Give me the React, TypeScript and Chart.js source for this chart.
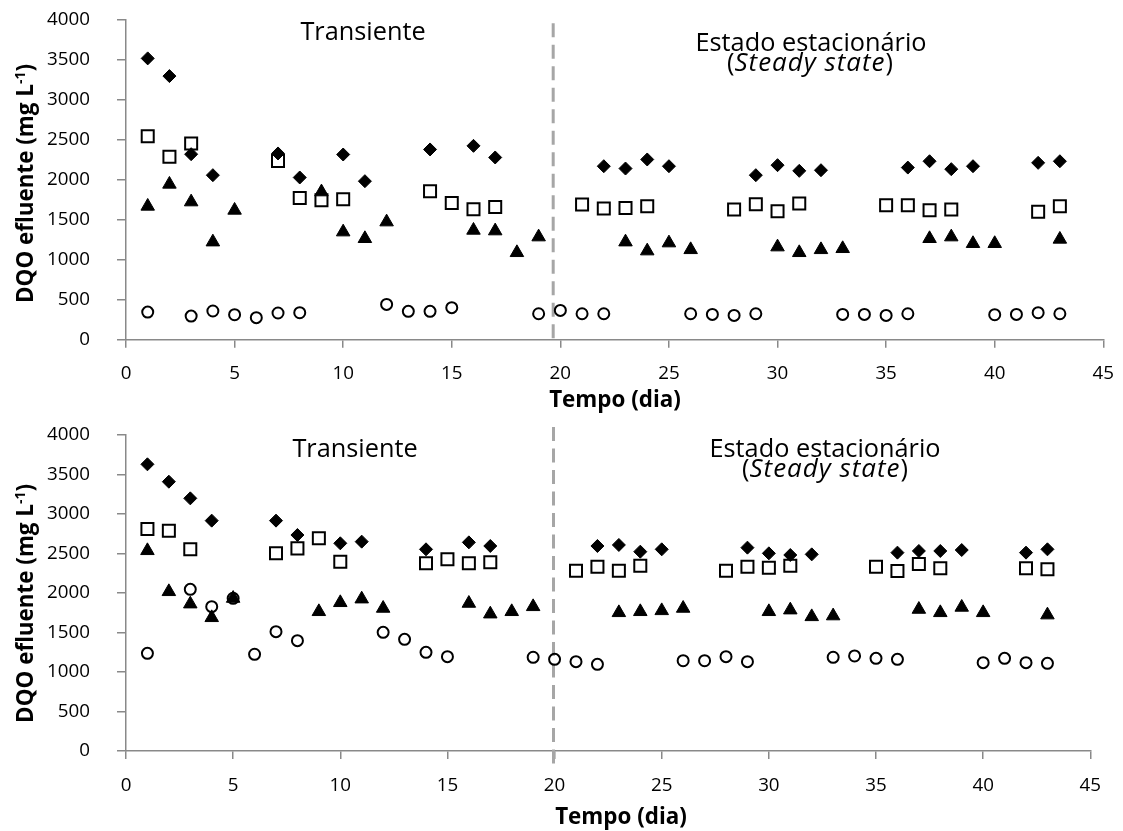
import React, { useEffect, useRef } from "react";
import { Chart, registerables } from "chart.js";

Chart.register(...registerables);

// Eixos comuns
const xTickValues = [0, 5, 10, 15, 20, 25, 30, 35, 40, 45];
const yTickValues = [0, 500, 1000, 1500, 2000, 2500, 3000, 3500, 4000];

// Painel superior: DQO efluente (mg/L) por dia
const topDiamondDays = [1, 2, 3, 4, 7, 8, 10, 11, 14, 16, 17, 22, 23, 24, 25, 29, 30, 31, 32, 36, 37, 38, 39, 42, 43];
const topDiamondValues = [3512, 3291, 2316, 2054, 2325, 2025, 2312, 1979, 2375, 2420, 2275, 2166, 2137, 2250, 2166, 2054, 2179, 2108, 2116, 2149, 2228, 2129, 2166, 2208, 2228];
const topSquareDays = [1, 2, 3, 7, 8, 9, 10, 14, 15, 16, 17, 21, 22, 23, 24, 28, 29, 30, 31, 35, 36, 37, 38, 42, 43];
const topSquareValues = [2541, 2283, 2450, 2232, 1770, 1741, 1754, 1853, 1708, 1628, 1658, 1687, 1637, 1645, 1666, 1625, 1691, 1604, 1700, 1679, 1679, 1616, 1625, 1596, 1666];
const topTriangleDays = [1, 2, 3, 4, 5, 9, 10, 11, 12, 16, 17, 18, 19, 23, 24, 25, 26, 30, 31, 32, 33, 37, 38, 39, 40, 43];
const topTriangleValues = [1666, 1941, 1720, 1220, 1616, 1845, 1345, 1262, 1470, 1366, 1358, 1087, 1283, 1220, 1108, 1208, 1124, 1158, 1087, 1124, 1137, 1262, 1283, 1200, 1200, 1254];
const topCircleDays = [1, 3, 4, 5, 6, 7, 8, 12, 13, 14, 15, 19, 20, 21, 22, 26, 27, 28, 29, 33, 34, 35, 36, 40, 41, 42, 43];
const topCircleValues = [345, 295, 358, 312, 275, 333, 337, 441, 354, 354, 400, 324, 366, 324, 324, 324, 316, 303, 324, 316, 316, 303, 324, 312, 316, 337, 324];

// Painel inferior: DQO efluente (mg/L) por dia
const bottomDiamondDays = [1, 2, 3, 4, 7, 8, 10, 11, 14, 16, 17, 22, 23, 24, 25, 29, 30, 31, 32, 36, 37, 38, 39, 42, 43];
const bottomDiamondValues = [3629, 3409, 3198, 2916, 2916, 2734, 2629, 2650, 2553, 2641, 2595, 2595, 2608, 2523, 2553, 2574, 2502, 2481, 2489, 2511, 2532, 2532, 2544, 2511, 2553];
const bottomSquareDays = [1, 2, 3, 7, 8, 9, 10, 14, 15, 16, 17, 21, 22, 23, 24, 28, 29, 30, 31, 35, 36, 37, 38, 42, 43];
const bottomSquareValues = [2810, 2789, 2553, 2502, 2565, 2692, 2397, 2376, 2426, 2376, 2388, 2283, 2333, 2283, 2346, 2283, 2333, 2321, 2346, 2333, 2279, 2367, 2312, 2312, 2300];
const bottomTriangleDays = [1, 2, 3, 4, 5, 9, 10, 11, 12, 16, 17, 18, 19, 23, 24, 25, 26, 30, 31, 32, 33, 37, 38, 39, 40, 43];
const bottomTriangleValues = [2536, 2017, 1861, 1688, 1932, 1764, 1878, 1924, 1806, 1869, 1734, 1764, 1827, 1751, 1764, 1776, 1806, 1764, 1785, 1700, 1710, 1793, 1751, 1819, 1751, 1722];
const bottomCircleDays = [1, 3, 4, 5, 6, 7, 8, 12, 13, 14, 15, 19, 20, 21, 22, 26, 27, 28, 29, 33, 34, 35, 36, 40, 41, 42, 43];
const bottomCircleValues = [1236, 2046, 1827, 1932, 1224, 1511, 1397, 1502, 1413, 1249, 1194, 1186, 1160, 1131, 1097, 1143, 1143, 1194, 1131, 1186, 1203, 1173, 1160, 1118, 1173, 1118, 1110];

// Fim do período transiente (dia)
const topDividerDay = 19.67;
const bottomDividerDay = 19.95;

const FONT = '"Open Sans", sans-serif';
const AXIS_GRAY = "#898989";

type Pt = { x: number; y: number };
const pairs = (days: number[], values: number[]): Pt[] =>
  days.map((d, i) => ({ x: d, y: values[i] }));

type PanelLayout = {
  top: number;
  height: number;
  padTop: number;
  padRight: number;
  xAxisHeight: number;
  divider: number;
  dividerTopExt: number;
  dividerBottomExt: number;
  transiente: [number, number];
  estado: [number, number];
  steady: [number, number];
  yTitle: [number, number];
  xTitle: [number, number];
};

const topLayout: PanelLayout = {
  top: 0,
  height: 415,
  padTop: 19.3,
  padRight: 19.7,
  xAxisHeight: 75.3,
  divider: topDividerDay,
  dividerTopExt: -4,
  dividerBottomExt: 0,
  transiente: [363, 40],
  estado: [811, 50.7],
  steady: [810, 70.5],
  yTitle: [32.5, 183.5],
  xTitle: [615, 406.7],
};

const bottomLayout: PanelLayout = {
  top: 415,
  height: 416,
  padTop: 20,
  padRight: 32.7,
  xAxisHeight: 80,
  divider: bottomDividerDay,
  dividerTopExt: 8,
  dividerBottomExt: 16,
  transiente: [355, 42.3],
  estado: [825, 41.7],
  steady: [825, 61.7],
  yTitle: [32.5, 188.4],
  xTitle: [621, 409],
};

function textPlugin(lay: PanelLayout) {
  return {
    id: "painelTextos",
    beforeDatasetsDraw(chart: any) {
      const { ctx, chartArea, scales } = chart;
      const x = scales.x.getPixelForValue(lay.divider);
      ctx.save();
      ctx.strokeStyle = "#a6a6a6";
      ctx.lineWidth = 3;
      ctx.setLineDash([14, 7.5]);
      ctx.beginPath();
      ctx.moveTo(x, chartArea.top - lay.dividerTopExt);
      ctx.lineTo(x, chartArea.bottom + lay.dividerBottomExt);
      ctx.stroke();
      ctx.restore();
    },
    afterDraw(chart: any) {
      const ctx: any = chart.ctx;
      ctx.save();
      ctx.fillStyle = "#000";
      ctx.textBaseline = "alphabetic";

      // Fases do ensaio
      const normal = `25.3px ${FONT}`;
      const italic = `italic 26px ${FONT}`;
      ctx.font = normal;
      ctx.textAlign = "center";
      ctx.fillText("Transiente", lay.transiente[0], lay.transiente[1]);
      ctx.fillText("Estado estacionário", lay.estado[0], lay.estado[1]);

      ctx.textAlign = "left";
      const wOpen = ctx.measureText("(").width;
      const wClose = ctx.measureText(")").width;
      ctx.font = italic;
      ctx.letterSpacing = "1px";
      const wMid = ctx.measureText("Steady state").width;
      ctx.letterSpacing = "0px";
      let sx = lay.steady[0] - (wOpen + wMid + wClose) / 2;
      ctx.font = normal;
      ctx.fillText("(", sx, lay.steady[1]);
      sx += wOpen;
      ctx.font = italic;
      ctx.letterSpacing = "1px";
      ctx.fillText("Steady state", sx, lay.steady[1]);
      ctx.letterSpacing = "0px";
      sx += wMid;
      ctx.font = normal;
      ctx.fillText(")", sx, lay.steady[1]);

      // Título do eixo x
      ctx.font = `bold 22.4px ${FONT}`;
      ctx.textAlign = "center";
      ctx.fillText("Tempo (dia)", lay.xTitle[0], lay.xTitle[1]);

      // Título do eixo y com expoente
      const main = "DQO efluente (mg L";
      const sup = "-1";
      const tail = ")";
      const fMain = `bold 22.4px ${FONT}`;
      const fSup = `bold 14px ${FONT}`;
      ctx.font = fMain;
      const w1 = ctx.measureText(main).width;
      const w3 = ctx.measureText(tail).width;
      ctx.font = fSup;
      const w2 = ctx.measureText(sup).width;
      const total = w1 + w2 + w3;
      ctx.translate(lay.yTitle[0], lay.yTitle[1]);
      ctx.rotate(-Math.PI / 2);
      ctx.textAlign = "left";
      let tx = -total / 2;
      ctx.font = fMain;
      ctx.fillText(main, tx, 0);
      tx += w1;
      ctx.font = fSup;
      ctx.fillText(sup, tx, -8);
      tx += w2;
      ctx.font = fMain;
      ctx.fillText(tail, tx, 0);
      ctx.restore();
    },
  };
}

function buildConfig(lay: PanelLayout, series: { d: number[]; v: number[] }[]) {
  const [dia, tri, sq, cir] = series;
  const tickFont = { family: FONT, size: 18.8 };
  return {
    type: "scatter" as const,
    data: {
      datasets: [
        {
          label: "losango",
          data: pairs(dia.d, dia.v),
          pointStyle: "rectRot",
          pointRadius: 6.5,
          backgroundColor: "#000",
          borderColor: "#000",
          borderWidth: 1,
        },
        {
          label: "triângulo",
          data: pairs(tri.d, tri.v),
          pointStyle: "triangle",
          pointRadius: 7.8,
          backgroundColor: "#000",
          borderColor: "#000",
          borderWidth: 1,
        },
        {
          label: "quadrado",
          data: pairs(sq.d, sq.v),
          pointStyle: "rect",
          pointRadius: 8.5,
          backgroundColor: "rgba(0,0,0,0)",
          borderColor: "#000",
          borderWidth: 2,
        },
        {
          label: "círculo",
          data: pairs(cir.d, cir.v),
          pointStyle: "circle",
          pointRadius: 5.5,
          backgroundColor: "rgba(0,0,0,0)",
          borderColor: "#000",
          borderWidth: 2,
        },
      ],
    },
    options: {
      animation: false as const,
      responsive: false,
      maintainAspectRatio: false,
      devicePixelRatio: 1,
      events: [],
      layout: { padding: { left: 0, top: lay.padTop, right: lay.padRight, bottom: 0 } },
      plugins: {
        legend: { display: false },
        tooltip: { enabled: false },
      },
      scales: {
        x: {
          type: "linear" as const,
          min: 0,
          max: 45,
          afterBuildTicks: (s: any) => {
            s.ticks = xTickValues.map((value) => ({ value }));
          },
          afterFit: (s: any) => {
            s.height = lay.xAxisHeight;
            s.paddingLeft = 0;
            s.paddingRight = 0;
          },
          ticks: {
            font: tickFont,
            color: "#000",
            padding: 15,
            maxRotation: 0,
            autoSkip: false,
            callback: (v: any) => String(v),
          },
          grid: { drawOnChartArea: false, drawTicks: true, tickLength: 8, color: AXIS_GRAY, lineWidth: 1.5 },
          border: { display: true, color: AXIS_GRAY, width: 1.5 },
        },
        y: {
          type: "linear" as const,
          min: 0,
          max: 4000,
          afterBuildTicks: (s: any) => {
            s.ticks = yTickValues.map((value) => ({ value }));
          },
          afterFit: (s: any) => {
            s.width = 126;
            s.paddingTop = 0;
            s.paddingBottom = 0;
          },
          ticks: { font: tickFont, color: "#000", padding: 27, callback: (v: any) => String(v) },
          grid: { drawOnChartArea: false, drawTicks: true, tickLength: 9, color: AXIS_GRAY, lineWidth: 1.5 },
          border: { display: true, color: AXIS_GRAY, width: 1.5 },
        },
      },
    },
    plugins: [textPlugin(lay)],
  };
}

function Panel({ lay, series }: { lay: PanelLayout; series: { d: number[]; v: number[] }[] }) {
  const ref = useRef<HTMLCanvasElement | null>(null);
  useEffect(() => {
    if (!ref.current) return;
    const chart = new Chart(ref.current, buildConfig(lay, series) as any);
    return () => chart.destroy();
  }, []);
  return (
    <canvas
      ref={ref}
      width={1123}
      height={lay.height}
      style={{ position: "absolute", left: 0, top: lay.top, width: 1123, height: lay.height, display: "block" }}
    />
  );
}

export default function App() {
  return (
    <div style={{ position: "absolute", left: 0, top: 0, width: 1123, height: 831, background: "#fff" }}>
      <Panel
        lay={topLayout}
        series={[
          { d: topDiamondDays, v: topDiamondValues },
          { d: topTriangleDays, v: topTriangleValues },
          { d: topSquareDays, v: topSquareValues },
          { d: topCircleDays, v: topCircleValues },
        ]}
      />
      <Panel
        lay={bottomLayout}
        series={[
          { d: bottomDiamondDays, v: bottomDiamondValues },
          { d: bottomTriangleDays, v: bottomTriangleValues },
          { d: bottomSquareDays, v: bottomSquareValues },
          { d: bottomCircleDays, v: bottomCircleValues },
        ]}
      />
    </div>
  );
}
